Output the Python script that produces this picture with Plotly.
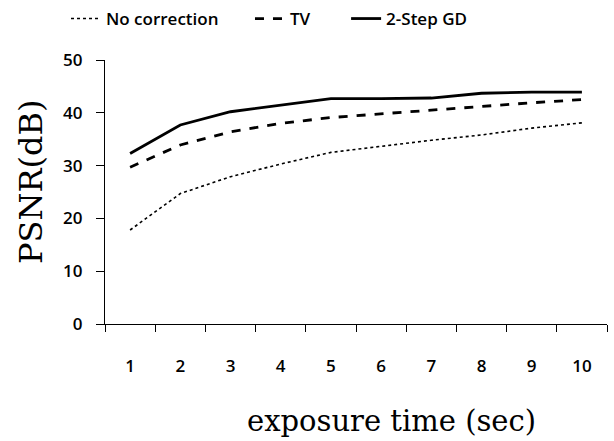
import plotly.graph_objects as go

exposure = [1, 2, 3, 4, 5, 6, 7, 8, 9, 10]
no_correction = [17.8, 24.7, 27.9, 30.3, 32.5, 33.7, 34.8, 35.8, 37.1, 38.1]
tv = [29.7, 33.9, 36.4, 38.0, 39.1, 39.8, 40.5, 41.3, 41.9, 42.5]
two_step_gd = [32.3, 37.7, 40.2, 41.5, 42.7, 42.7, 42.8, 43.7, 43.9, 43.9]
y_ticks = [0, 10, 20, 30, 40, 50]
series_names = ["No correction", "TV", "2-Step GD"]

NB = "\u00a0"
fig = go.Figure()
fig.add_trace(go.Scatter(x=exposure, y=no_correction, mode="lines", name=series_names[0] + NB * 6,
                         line=dict(color="black", width=1.6, dash="dot")))
fig.add_trace(go.Scatter(x=exposure, y=tv, mode="lines", name=series_names[1] + NB * 7,
                         line=dict(color="black", width=2.8, dash="dash")))
fig.add_trace(go.Scatter(x=exposure, y=two_step_gd, mode="lines", name=series_names[2],
                         line=dict(color="black", width=2.8)))

tick_font = dict(family="Open Sans", size=17, color="black", weight=600)
title_font = dict(family="DejaVu Serif", size=29, color="black")
fig.update_layout(
    width=614, height=441,
    margin=dict(l=105, r=7, t=60, b=117),
    paper_bgcolor="white", plot_bgcolor="white",
    showlegend=True,
    legend=dict(orientation="h", xref="container", x=66 / 614, xanchor="left",
                yref="container", y=1 - 19 / 441, yanchor="middle",
                font=dict(family="Open Sans", size=17, color="black", weight=600),
                itemwidth=30, tracegroupgap=0),
    xaxis=dict(range=[0.5, 10.5], tickvals=exposure, ticktext=[str(v) for v in exposure],
               ticks="outside", ticklen=0, showgrid=False, zeroline=False,
               showline=True, linecolor="black", linewidth=1.2,
               ticklabelstandoff=26, tickfont=tick_font,
               minor=dict(tickvals=[v - 0.5 for v in exposure] + [10.5], ticks="outside",
                          ticklen=7, tickcolor="black", tickwidth=1.2, showgrid=False)),
    yaxis=dict(range=[0, 50], tickvals=y_ticks, ticks="outside", ticklen=8,
               tickcolor="black", tickwidth=1.2, showgrid=False, zeroline=False,
               showline=True, linecolor="black", linewidth=1.2,
               ticklabelstandoff=10, tickfont=tick_font),
    annotations=[
        dict(text="exposure time (sec)", xref="paper", yref="paper",
             x=(391 - 105) / 502, y=(324 - 421) / 264, xanchor="center", yanchor="middle",
             showarrow=False, font=title_font),
        dict(text="PSNR(dB)", xref="paper", yref="paper", textangle=-90,
             x=(31 - 105) / 502, y=(324 - 182) / 264, xanchor="center", yanchor="middle",
             showarrow=False, font=dict(family="DejaVu Serif", size=32, color="black")),
    ],
)

fig.write_html("out.html")
